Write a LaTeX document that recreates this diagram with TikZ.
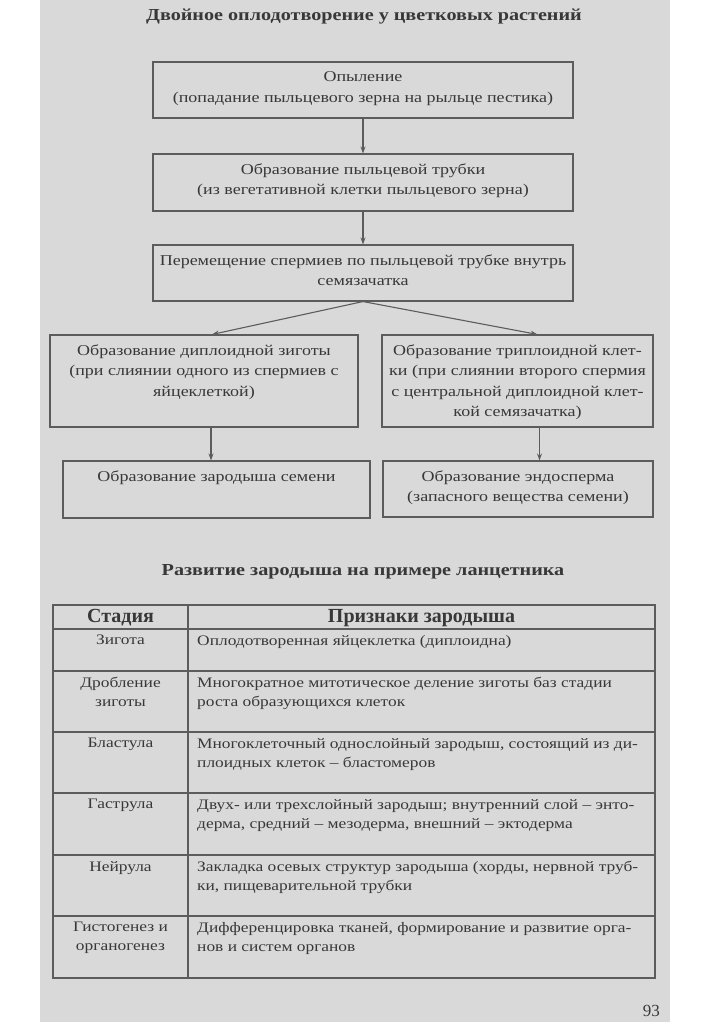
\documentclass[tikz,border=0pt]{standalone}
\usepackage{fontspec}
\setmainfont[FakeStretch=1.2]{Liberation Serif}
\newfontfamily\plainserif{Liberation Serif}
\usetikzlibrary{positioning,arrows.meta}
\definecolor{pagegray}{gray}{0.85}
\definecolor{linegray}{gray}{0.36}
\definecolor{inkgray}{gray}{0.22}
\tikzset{
	stagebox/.style={draw=linegray, line width=1.1pt, inner sep=0pt},
	boxtext/.style={align=center, inner sep=0pt, text=inkgray, font=\fontsize{15}{20.5}\selectfont},
	celltext/.style={inner sep=0pt, text=inkgray, font=\fontsize{14.5}{19}\selectfont},
	headtext/.style={inner sep=0pt, text=inkgray, font=\plainserif\fontsize{20}{22}\selectfont\bfseries},
	titletext/.style={inner sep=0pt, text=inkgray, font=\fontsize{16.8}{20}\selectfont\bfseries},
	flow/.style={draw=linegray, line width=1.1pt, -{Stealth[length=7pt,width=5pt]}},
}
\begin{document}
\begin{tikzpicture}[x=1pt, y=-1pt]
		\useasboundingbox (0, 0) rectangle (722, 1024);
		\fill[white] (0, 0) rectangle (722, 1024);
		\fill[pagegray] (40, 0) rectangle (670, 1022);

		\node[titletext] (title) at (364, 17) {Двойное оплодотворение у цветковых растений};

		\node[stagebox, minimum width=420pt, minimum height=56pt] (poll) at (363, 90) {};
		\node[stagebox, minimum width=420pt, minimum height=57pt] (tube) at (363, 182.5) {};
		\node[stagebox, minimum width=420pt, minimum height=56pt] (sperm) at (363, 273) {};
		\node[stagebox, minimum width=308pt, minimum height=92pt] (zygote) at (204, 381) {};
		\node[stagebox, minimum width=271pt, minimum height=92pt] (triplo) at (517.5, 381) {};
		\node[stagebox, minimum width=307pt, minimum height=57pt] (embryo) at (216.5, 489.5) {};
		\node[stagebox, minimum width=270pt, minimum height=56pt] (endo) at (518, 489) {};

		\node[boxtext, below=10pt of poll.north] (pollt) {Опыление\\(попадание пыльцевого зерна на рыльце пестика)};
		\node[boxtext, below=10pt of tube.north] (tubet) {Образование пыльцевой трубки\\(из вегетативной клетки пыльцевого зерна)};
		\node[boxtext, below=10pt of sperm.north] (spermt) {Перемещение спермиев по пыльцевой трубке внутрь\\семязачатка};
		\node[boxtext, below=10pt of zygote.north] (zygotet) {Образование диплоидной зиготы\\(при слиянии одного из спермиев с\\яйцеклеткой)};
		\node[boxtext, below=10pt of triplo.north] (triplot) {Образование триплоидной клет-\\ки (при слиянии второго спермия\\с центральной диплоидной клет-\\кой семязачатка)};
		\node[boxtext, below=10pt of embryo.north] (embryot) {Образование зародыша семени};
		\node[boxtext, below=10pt of endo.north] (endot) {Образование эндосперма\\(запасного вещества семени)};

		\draw[flow] (poll) -- (tube);
		\draw[flow] (tube) -- (sperm);
		\draw[flow] (sperm.south) -- ([xshift=8pt]zygote.north);
		\draw[flow] (sperm.south) -- ([xshift=20pt]triplo.north);
		\draw[flow] ([xshift=7pt]zygote.south) -- ([xshift=7pt]zygote.south |- embryo.north);
		\draw[flow] ([xshift=22pt]triplo.south) -- ([xshift=22pt]triplo.south |- endo.north);

		\node[titletext] (title2) at (363, 572) {Развитие зародыша на примере ланцетника};

		\draw[draw=linegray, line width=1.1pt] (53, 605) rectangle (655, 978);
		\draw[draw=linegray, line width=1.1pt] (188, 605) -- (188, 978);
		\foreach \y in {629, 671, 732, 793, 855, 916}
			\draw[draw=linegray, line width=1.1pt] (53, \y) -- (655, \y);

		\node[headtext] (stagehead) at (120.5, 618) {Стадия};
		\node[headtext] (signhead) at (421.5, 618) {Признаки зародыша};

		\node[celltext, align=center, anchor=north] (zyg) at (120.5, 635) {Зигота};
		\node[celltext, align=center, anchor=north] (cleave) at (120.5, 677) {Дробление\\зиготы};
		\node[celltext, align=center, anchor=north] (blast) at (120.5, 738) {Бластула};
		\node[celltext, align=center, anchor=north] (gastr) at (120.5, 799) {Гаструла};
		\node[celltext, align=center, anchor=north] (neur) at (120.5, 861) {Нейрула};
		\node[celltext, align=center, anchor=north] (organ) at (120.5, 922) {Гистогенез и\\органогенез};

		\node[celltext, align=left, anchor=north west] (zygs) at (197, 635) {Оплодотворенная яйцеклетка (диплоидна)};
		\node[celltext, align=left, anchor=north west] (cleaves) at (197, 677) {Многократное митотическое деление зиготы баз стадии\\роста образующихся клеток};
		\node[celltext, align=left, anchor=north west] (blasts) at (197, 738) {Многоклеточный однослойный зародыш, состоящий из ди-\\плоидных клеток – бластомеров};
		\node[celltext, align=left, anchor=north west] (gastrs) at (197, 799) {Двух- или трехслойный зародыш; внутренний слой – энто-\\дерма, средний – мезодерма, внешний – эктодерма};
		\node[celltext, align=left, anchor=north west] (neurs) at (197, 861) {Закладка осевых структур зародыша (хорды, нервной труб-\\ки, пищеварительной трубки};
		\node[celltext, align=left, anchor=north west] (organs) at (197, 922) {Дифференцировка тканей, формирование и развитие орга-\\нов и систем органов};

		\node[celltext, anchor=east, font=\plainserif\fontsize{17}{19}\selectfont] (pagenum) at (660, 1011) {93};
	\end{tikzpicture}
\end{document}
